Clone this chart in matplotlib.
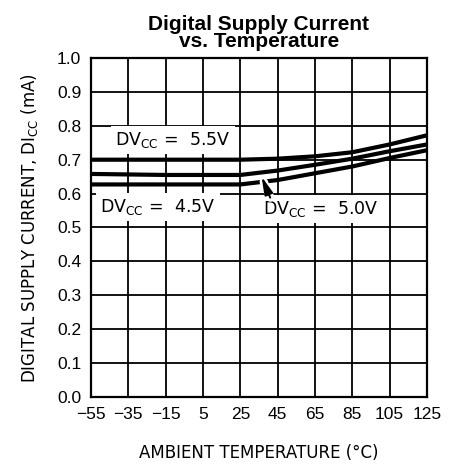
import matplotlib
matplotlib.use('Agg')
import matplotlib.pyplot as plt

# temperatures (deg C) where curves were read
temp = [-55, -15, 25, 45, 65, 85, 105, 125]
i_55 = [0.700, 0.700, 0.700, 0.703, 0.710, 0.722, 0.745, 0.772]
i_50 = [0.658, 0.655, 0.655, 0.668, 0.685, 0.703, 0.725, 0.745]
i_45 = [0.627, 0.627, 0.627, 0.640, 0.660, 0.680, 0.705, 0.728]

xticks = [-55, -35, -15, 5, 25, 45, 65, 85, 105, 125]
yticks = [0.0, 0.1, 0.2, 0.3, 0.4, 0.5, 0.6, 0.7, 0.8, 0.9, 1.0]

plt.rcParams['font.family'] = ['DejaVu Sans']

fig = plt.figure(figsize=(4.52, 4.67), dpi=100)
ax = fig.add_axes([91/452, 1-397/467, 336/452, 339/467])

ax.plot(temp, i_55, color='black', lw=3, solid_capstyle='butt', zorder=3)
ax.plot(temp, i_50, color='black', lw=3, solid_capstyle='butt', zorder=3)
ax.plot(temp, i_45, color='black', lw=3, solid_capstyle='butt', zorder=3)

ax.set_xlim(-55, 125)
ax.set_ylim(0, 1.0)
ax.set_xticks(xticks)
ax.set_yticks(yticks)
ax.set_yticklabels(['%.1f' % v for v in yticks], fontname='Liberation Sans', fontsize=12.5)
ax.set_xticklabels([str(v).replace('-', '\u2212') for v in xticks], fontname='Liberation Sans', fontsize=12.5)
ax.tick_params(length=0, pad=7)
ax.grid(True, color='black', lw=1.3)
for s in ax.spines.values():
    s.set_linewidth(1.6)

box = dict(facecolor='white', edgecolor='none', pad=3)
ax.text(-11, 0.759, r'DV$_{\mathrm{CC}}$ =  5.5V', fontsize=12.5, ha='center', va='center', bbox=box, zorder=4)
ax.text(-19, 0.561, r'DV$_{\mathrm{CC}}$ =  4.5V', fontsize=12.5, ha='center', va='center', bbox=box, zorder=4)
ax.text(68, 0.555, r'DV$_{\mathrm{CC}}$ =  5.0V', fontsize=12.5, ha='center', va='center', bbox=box, zorder=4)

# white gap in the 4.5V curve under the arrow, then the arrow itself
tip = (36.4, 0.650)
tail = (41.0, 0.588)
ax.annotate('', xy=tip, xytext=tail,
            arrowprops=dict(arrowstyle='-', color='white', lw=6, shrinkA=0, shrinkB=4),
            zorder=5)
ax.annotate('', xy=tip, xytext=tail,
            arrowprops=dict(arrowstyle='-|>,head_width=0.22,head_length=0.9', color='black',
                            lw=1.4, mutation_scale=12, shrinkA=0, shrinkB=0),
            zorder=6)

ax.set_xlabel('AMBIENT TEMPERATURE (°C)', fontsize=12, labelpad=16)
ax.set_ylabel(r'DIGITAL SUPPLY CURRENT, DI$_{\mathrm{CC}}$ (mA)', fontsize=12, labelpad=12)
ax.set_title('Digital Supply Current\nvs. Temperature', fontname='Liberation Sans',
             fontweight='bold', fontsize=15, linespacing=0.85, pad=8)

fig.savefig('out.png', dpi=100)
